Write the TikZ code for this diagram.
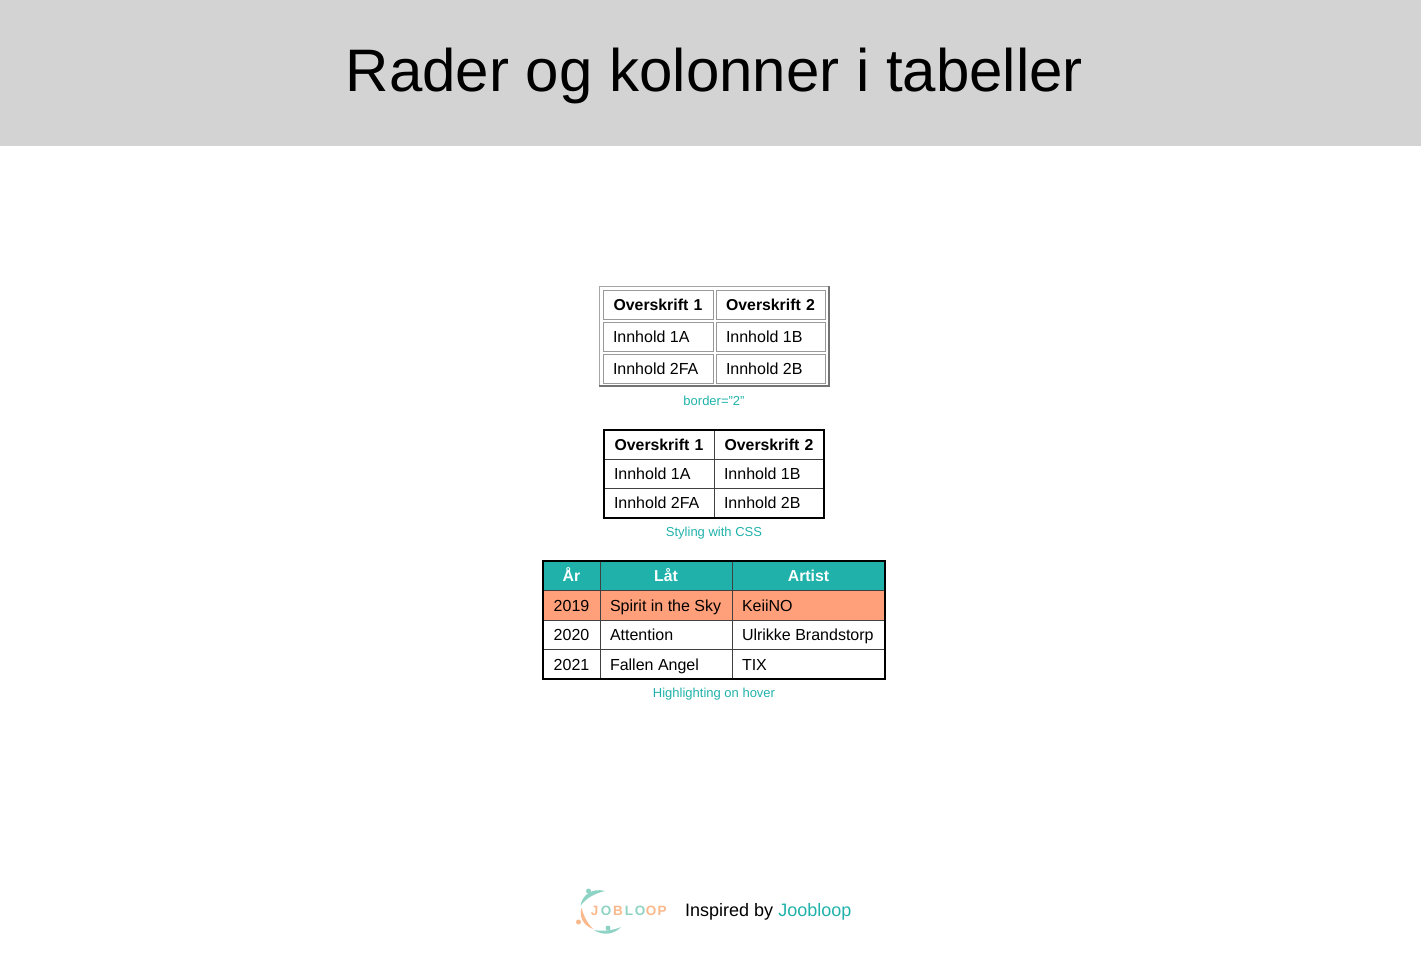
\documentclass[tikz,border=0pt]{standalone}
\usepackage{fontspec}
\setmainfont{Liberation Sans}
\definecolor{headgray}{HTML}{D3D3D3}
\definecolor{teal}{HTML}{20B2AA}
\definecolor{salmon}{HTML}{FFA07A}
\definecolor{logoteal}{HTML}{8FD3C4}
\definecolor{logoorange}{HTML}{F9B98C}
\tikzset{
    cellbox/.style={rectangle, anchor=north west, inner xsep=0pt, inner ysep=0pt, outer sep=0pt,
        text height=13.5pt, text depth=1.5pt, font=\fontsize{16}{18}\selectfont},
    leftcell/.style={cellbox, align=flush left, execute at begin node=\hspace*{10pt}},
    midcell/.style={cellbox, align=center},
    headcell/.style={cellbox, align=center, font=\fontsize{15.8}{18}\selectfont\bfseries},
    caption/.style={text=teal, font=\fontsize{13}{15}\selectfont},
    logoletter/.style={font=\fontsize{13.5}{16}\selectfont\bfseries},
}
\begin{document}
\begin{tikzpicture}[x=1pt,y=-1pt]
    \useasboundingbox (0,0) rectangle (1421,956);
    \fill[headgray] (0,0) rectangle (1421,146);
    \node[font=\fontsize{60}{70}\selectfont] (title) at (714.5,76) {Rader og kolonner i tabeller};

    % border="2"
    \draw[line width=1pt, black!35] (599,386) -- (599,286.5) -- (828,286.5);
    \draw[line width=2pt, black!55] (828.5,286) -- (828.5,386) -- (598.5,386);
    \foreach \n/\s/\x/\y/\w/\h/\t in {
        ta/headcell/603/290/110/29/Overskrift 1, tb/headcell/716/290/109/29/Overskrift 2,
        tc/leftcell/603/322/110/29/Innhold 1A, td/leftcell/716/322/109/29/Innhold 1B,
        te/leftcell/603/354/110/29.5/Innhold 2FA, tf/leftcell/716/354/109/29.5/Innhold 2B} {
        \node[\s, draw=black!40, line width=1pt, text width=\w pt, minimum height=\h pt] (\n) at (\x,\y) {\t};
    }
    \node[caption] (capa) at (714,401) {border="2"};

    % styled with css
    \foreach \n/\s/\x/\y/\w/\h/\t in {
        ua/headcell/604/430/110/29/Overskrift 1, ub/headcell/714/430/110/29/Overskrift 2,
        uc/leftcell/604/459/110/29/Innhold 1A, ud/leftcell/714/459/110/29/Innhold 1B,
        ue/leftcell/604/488/110/29.5/Innhold 2FA, uf/leftcell/714/488/110/29.5/Innhold 2B} {
        \node[\s, draw=black!75, line width=1pt, text width=\w pt, minimum height=\h pt] (\n) at (\x,\y) {\t};
    }
    \draw[line width=2pt] (ua.north west) rectangle (uf.south east);
    \node[caption] (capb) at (714,533.5) {Styling with CSS};

    % hover table
    \foreach \n/\s/\f/\o/\x/\y/\w/\h/\t in {
        va/headcell/teal/white/543/561/57/29.5/År, vb/headcell/teal/white/600/561/132/29.5/Låt, vc/headcell/teal/white/732/561/153/29.5/Artist,
        vd/midcell/salmon/black/543/590.5/57/29.5/2019, ve/leftcell/salmon/black/600/590.5/132/29.5/Spirit in the Sky, vf/leftcell/salmon/black/732/590.5/153/29.5/KeiiNO,
        vg/midcell/white/black/543/620/57/29.5/2020, vh/leftcell/white/black/600/620/132/29.5/Attention, vi/leftcell/white/black/732/620/153/29.5/Ulrikke Brandstorp,
        vj/midcell/white/black/543/649.5/57/29/2021, vk/leftcell/white/black/600/649.5/132/29/Fallen Angel, vl/leftcell/white/black/732/649.5/153/29/TIX} {
        \node[\s, fill=\f, text=\o, draw=black!75, line width=1pt, text width=\w pt, minimum height=\h pt] (\n) at (\x,\y) {\t};
    }
    \draw[line width=2pt] (va.north west) rectangle (vl.south east);
    \node[caption] (capc) at (714,694.5) {Highlighting on hover};

    % logo
    \fill[logoteal] (605,891) .. controls (592,887.5) and (582,895) .. (580.5,906)
        .. controls (585,899) and (594,893.5) .. (605,891);
    \fill[logoteal] (588.5,891) circle (2.5);
    \fill[logoorange] (581.5,908) .. controls (578.5,917) and (584,926) .. (593,929)
        .. controls (588,924) and (584,917) .. (581.5,908);
    \fill[logoorange] (578.5,922) circle (2.5);
    \fill[logoteal] (594,930) .. controls (603,936) and (614,934.5) .. (621,927)
        .. controls (613,930.5) and (603,931.5) .. (594,930);
    \fill[logoteal] (608,928) circle (2.5);
    \foreach \l/\x/\c in {J/594.5/logoorange, O/606/logoteal, B/618/logoorange, L/629/logoteal,
        O/640/logoteal, O/651/logoorange, P/662/logoorange} {
        \node[logoletter, text=\c] (logo\x) at (\x,911) {\l};
    }

    \node[anchor=base west, font=\fontsize{18}{20}\selectfont, inner sep=0pt] (footer) at (685,916.5)
        {Inspired by \textcolor{teal}{Joobloop}};
\end{tikzpicture}
\end{document}
